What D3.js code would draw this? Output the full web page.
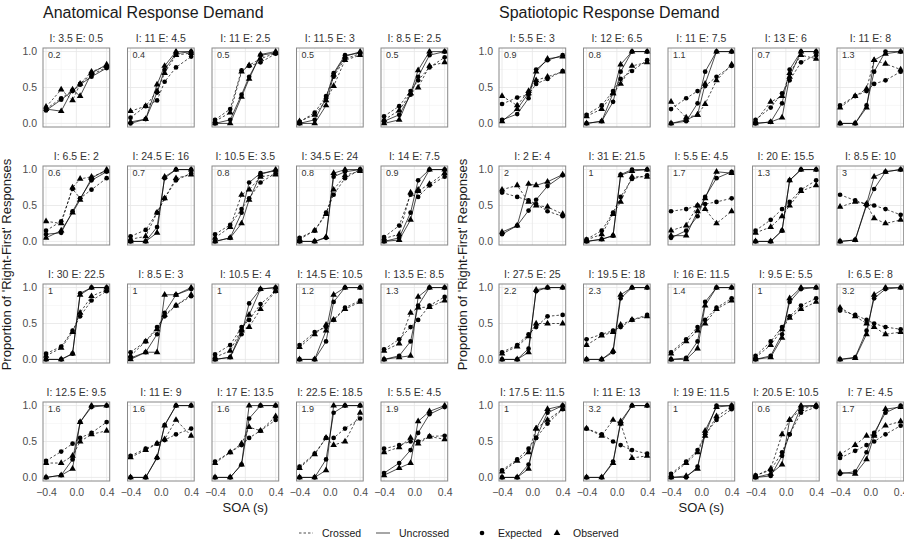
<!DOCTYPE html>
<html>
<head>
<meta charset="utf-8">
<script src="https://cdn.jsdelivr.net/npm/d3@7"></script>
<style>
  body { margin: 0; background: #fff; }
  svg { font-family: "Liberation Sans", Arial, sans-serif; }
</style>
</head>
<body>
<div id="chart"></div>
<script>
/*
  Small multiples of psychometric curves
*/

var soa = [-0.4, -0.2, -0.05, 0.05, 0.2, 0.4];
var yTicks = [0, 0.5, 1], yMinor = [0.25, 0.75];
var xTicks = [-0.4, 0, 0.4], xMinor = [-0.2, 0.2];

var anatTitles = ["I: 3.5 E: 0.5", "I: 11 E: 4.5", "I: 11 E: 2.5", "I: 11.5 E: 3", "I: 8.5 E: 2.5",
  "I: 6.5 E: 2", "I: 24.5 E: 16", "I: 10.5 E: 3.5", "I: 34.5 E: 24", "I: 14 E: 7.5",
  "I: 30 E: 22.5", "I: 8.5 E: 3", "I: 10.5 E: 4", "I: 14.5 E: 10.5", "I: 13.5 E: 8.5",
  "I: 12.5 E: 9.5", "I: 11 E: 9", "I: 17 E: 13.5", "I: 22.5 E: 18.5", "I: 5.5 E: 4.5"];
var anatSlopes = ["0.2", "0.4", "0.5", "0.5", "0.5", "0.6", "0.7", "0.8", "0.8", "0.9",
  "1", "1", "1", "1.2", "1.3", "1.6", "1.6", "1.6", "1.9", "1.9"];

var anatCrossedExp = [
  [0.20,0.35,0.46,0.55,0.68,0.78], [0.08,0.24,0.32,0.58,0.78,0.93], [0.05,0.20,0.74,0.80,0.85,0.97], [0.02,0.15,0.38,0.65,0.90,0.97], [0.10,0.24,0.45,0.60,0.78,0.92],
  [0.15,0.28,0.73,0.60,0.72,0.88], [0.07,0.16,0.40,0.60,0.85,0.95], [0.10,0.23,0.45,0.60,0.82,0.95], [0.05,0.15,0.40,0.65,0.88,1.00], [0.06,0.22,0.65,0.62,0.78,0.90],
  [0.08,0.18,0.40,0.60,0.82,0.95], [0.10,0.25,0.45,0.60,0.75,0.88], [0.07,0.20,0.45,0.55,0.77,0.95], [0.20,0.38,0.45,0.55,0.72,0.82], [0.14,0.28,0.45,0.55,0.75,0.87],
  [0.23,0.36,0.47,0.55,0.62,0.77], [0.30,0.40,0.47,0.52,0.60,0.68], [0.22,0.35,0.45,0.55,0.65,0.80], [0.15,0.33,0.55,0.55,0.68,0.82], [0.40,0.45,0.50,0.50,0.57,0.58]];
var anatCrossedObs = [
  [0.23,0.47,0.32,0.55,0.72,0.80], [0.17,0.24,0.45,0.70,0.95,0.98], [0.03,0.15,0.72,0.81,0.90,0.98], [0.03,0.12,0.32,0.52,0.88,0.95], [0.05,0.18,0.42,0.50,0.80,0.85],
  [0.28,0.25,0.75,0.87,0.90,0.98], [0.03,0.07,0.40,0.60,0.88,0.93], [0.05,0.20,0.65,0.72,0.90,0.93], [0.03,0.15,0.38,0.72,0.92,0.98], [0.04,0.10,0.68,0.70,0.80,0.95],
  [0.05,0.16,0.38,0.65,0.88,0.97], [0.05,0.25,0.42,0.62,0.75,0.90], [0.03,0.12,0.42,0.45,0.70,0.95], [0.17,0.35,0.48,0.55,0.70,0.80], [0.12,0.22,0.65,0.72,0.73,0.82],
  [0.20,0.20,0.30,0.50,0.60,0.65], [0.28,0.38,0.47,0.53,0.80,0.58], [0.20,0.35,0.47,0.70,0.65,0.85], [0.13,0.32,0.55,0.45,0.50,0.90], [0.35,0.42,0.55,0.47,0.57,0.53]];
var anatUncrossedExp = [
  [0.18,0.33,0.45,0.54,0.65,0.77], [0.00,0.06,0.43,0.75,0.97,1.00], [0.00,0.05,0.40,0.65,0.95,0.98], [0.00,0.05,0.35,0.70,0.95,0.98], [0.03,0.12,0.40,0.65,0.95,1.00],
  [0.10,0.12,0.42,0.60,0.85,0.97], [0.00,0.00,0.20,0.88,1.00,1.00], [0.00,0.05,0.40,0.82,0.95,0.98], [0.00,0.00,0.05,0.90,0.97,1.00], [0.00,0.05,0.40,0.85,1.00,1.00],
  [0.00,0.00,0.08,0.92,1.00,1.00], [0.02,0.10,0.35,0.65,0.90,0.98], [0.00,0.03,0.35,0.78,0.98,1.00], [0.00,0.00,0.25,0.80,1.00,1.00], [0.00,0.05,0.25,0.75,1.00,1.00],
  [0.00,0.03,0.25,0.77,0.98,1.00], [0.00,0.00,0.27,0.73,1.00,1.00], [0.00,0.00,0.18,0.82,1.00,1.00], [0.00,0.00,0.25,0.90,1.00,1.00], [0.06,0.20,0.38,0.62,0.88,0.98]];
var anatUncrossedObs = [
  [0.20,0.17,0.47,0.38,0.70,0.82], [0.02,0.06,0.54,0.80,1.00,1.00], [0.00,0.00,0.37,0.62,0.96,1.00], [0.00,0.00,0.25,0.68,0.93,1.00], [0.00,0.05,0.42,0.74,1.00,1.00],
  [0.05,0.15,0.40,0.58,0.88,1.00], [0.00,0.00,0.12,0.90,1.00,1.00], [0.00,0.05,0.25,0.58,0.93,1.00], [0.00,0.00,0.06,0.95,1.00,1.00], [0.00,0.02,0.30,0.72,1.00,1.00],
  [0.00,0.00,0.08,0.90,1.00,1.00], [0.00,0.10,0.10,0.90,0.90,1.00], [0.00,0.03,0.40,0.62,0.98,1.00], [0.00,0.00,0.40,0.90,1.00,1.00], [0.00,0.03,0.05,0.87,1.00,1.00],
  [0.00,0.03,0.12,0.77,1.00,1.00], [0.00,0.00,0.28,0.72,1.00,1.00], [0.00,0.00,0.18,1.00,1.00,1.00], [0.00,0.00,0.10,1.00,1.00,1.00], [0.03,0.13,0.20,0.78,0.92,1.00]];

var spatTitles = ["I: 5.5 E: 3", "I: 12 E: 6.5", "I: 11 E: 7.5", "I: 13 E: 6", "I: 11 E: 8",
  "I: 2 E: 4", "I: 31 E: 21.5", "I: 5.5 E: 4.5", "I: 20 E: 15.5", "I: 8.5 E: 10",
  "I: 27.5 E: 25", "I: 19.5 E: 18", "I: 16 E: 11.5", "I: 9.5 E: 5.5", "I: 6.5 E: 8",
  "I: 17.5 E: 11.5", "I: 11 E: 13", "I: 19 E: 11.5", "I: 20.5 E: 10.5", "I: 7 E: 4.5"];
var spatSlopes = ["0.9", "0.8", "1.1", "0.7", "1.3", "2", "1", "1.7", "1.3", "3",
  "2.2", "2.3", "1.4", "1", "3.2", "1", "3.2", "1", "0.6", "1.7"];

var spatCrossedExp = [
  [0.27,0.36,0.40,0.55,0.62,0.73], [0.12,0.25,0.45,0.62,0.73,0.88], [0.20,0.35,0.45,0.52,0.65,0.80], [0.05,0.22,0.42,0.60,0.85,0.95], [0.25,0.38,0.45,0.55,0.60,0.72],
  [0.68,0.62,0.57,0.52,0.42,0.35], [0.03,0.15,0.40,0.62,0.87,0.92], [0.42,0.45,0.50,0.52,0.55,0.60], [0.15,0.30,0.45,0.55,0.72,0.85], [0.65,0.57,0.52,0.50,0.45,0.37],
  [0.10,0.20,0.35,0.45,0.60,0.62], [0.28,0.35,0.40,0.45,0.55,0.62], [0.10,0.28,0.45,0.55,0.72,0.85], [0.05,0.25,0.45,0.60,0.75,0.85], [0.68,0.62,0.55,0.50,0.45,0.42],
  [0.10,0.25,0.40,0.55,0.75,0.95], [0.68,0.60,0.50,0.45,0.38,0.33], [0.05,0.22,0.38,0.60,0.80,0.95], [0.03,0.10,0.35,0.60,0.90,0.98], [0.27,0.37,0.45,0.50,0.60,0.72]];
var spatCrossedObs = [
  [0.38,0.25,0.45,0.60,0.65,0.72], [0.10,0.20,0.42,0.55,0.80,0.85], [0.30,0.08,0.12,0.27,0.60,0.82], [0.03,0.30,0.38,0.70,0.95,0.90], [0.22,0.38,0.48,0.88,0.83,0.75],
  [0.72,0.78,0.55,0.50,0.48,0.38], [0.02,0.10,0.38,0.55,0.90,0.90], [0.15,0.22,0.50,0.45,0.25,0.42], [0.12,0.20,0.35,0.50,0.70,0.78], [0.48,0.55,0.52,0.32,0.25,0.30],
  [0.08,0.18,0.32,0.50,0.50,0.50], [0.20,0.33,0.38,0.48,0.55,0.60], [0.08,0.25,0.40,0.50,0.70,0.82], [0.03,0.20,0.42,0.58,0.70,0.80], [0.72,0.60,0.50,0.45,0.35,0.38],
  [0.08,0.23,0.35,0.68,0.80,0.95], [0.68,0.58,0.80,0.75,0.27,0.30], [0.03,0.20,0.35,0.58,0.85,0.98], [0.02,0.12,0.60,0.80,0.95,1.00], [0.32,0.45,0.58,0.60,0.72,0.78]];
var spatUncrossedExp = [
  [0.05,0.13,0.35,0.75,0.88,0.95], [0.00,0.03,0.30,0.72,1.00,1.00], [0.00,0.03,0.28,0.72,1.00,1.00], [0.00,0.02,0.28,0.75,1.00,1.00], [0.00,0.00,0.25,0.72,1.00,1.00],
  [0.10,0.22,0.43,0.58,0.77,0.92], [0.00,0.03,0.08,0.93,1.00,1.00], [0.05,0.15,0.35,0.62,0.88,0.97], [0.00,0.00,0.15,0.85,1.00,1.00], [0.00,0.02,0.50,0.73,0.97,1.00],
  [0.00,0.00,0.15,0.95,1.00,1.00], [0.00,0.00,0.10,0.85,1.00,1.00], [0.00,0.02,0.25,0.80,1.00,1.00], [0.00,0.05,0.35,0.80,0.98,1.00], [0.00,0.03,0.40,0.85,0.98,1.00],
  [0.00,0.00,0.18,0.55,0.90,1.00], [0.00,0.00,0.22,0.75,1.00,1.00], [0.00,0.00,0.15,0.60,1.00,1.00], [0.00,0.02,0.30,0.60,0.98,1.00], [0.05,0.08,0.35,0.62,0.90,1.00]];
var spatUncrossedObs = [
  [0.03,0.20,0.42,0.72,0.90,0.93], [0.00,0.03,0.42,0.82,1.00,1.00], [0.00,0.05,0.12,0.55,1.00,1.00], [0.00,0.02,0.08,0.65,1.00,1.00], [0.00,0.00,0.22,0.88,0.97,1.00],
  [0.13,0.22,0.80,0.78,0.83,0.93], [0.00,0.03,0.08,0.92,0.98,1.00], [0.08,0.08,0.42,0.60,0.97,0.95], [0.00,0.00,0.15,0.85,1.00,1.00], [0.00,0.02,0.52,0.90,0.97,1.00],
  [0.00,0.00,0.10,0.97,1.00,1.00], [0.00,0.00,0.12,0.90,1.00,1.00], [0.00,0.00,0.15,0.75,1.00,1.00], [0.00,0.03,0.30,0.85,1.00,1.00], [0.00,0.02,0.35,0.90,1.00,1.00],
  [0.00,0.00,0.12,0.68,0.95,1.00], [0.00,0.00,0.20,0.78,1.00,1.00], [0.00,0.02,0.12,0.65,0.98,1.00], [0.00,0.05,0.18,0.80,1.00,1.00], [0.07,0.05,0.25,0.58,0.95,0.98]];

var width = 904, height = 541;
var panelW = 66.7, panelH = 79, stepX = 84.5, stepY = 118, panelTop = 48;

var svg = d3.select("#chart").append("svg")
  .attr("width", width)
  .attr("height", height);

var x = d3.scaleLinear().domain([-0.44, 0.44]).range([0, panelW]);
var y = d3.scaleLinear().domain([-0.05, 1.05]).range([panelH, 0]);

var line = d3.line()
  .x(function(d, i){ return x(soa[i]); })
  .y(function(d){ return y(d); });

function drawFigure(left, title, titles, slopes, crossedExp, crossedObs, uncrossedExp, uncrossedObs){
  var fig = svg.append("g");

  //Figure title
  fig.append("text")
    .attr("x", left)
    .attr("y", 18)
    .style("font-size", "16px")
    .style("fill", "#1a1a1a")
    .text(title);

  titles.forEach(function(t, k){
    var col = k % 5, row = Math.floor(k / 5);
    var g = fig.append("g")
      .attr("transform", "translate(" + (left + col * stepX) + "," + (panelTop + row * stepY) + ")");

    //grid lines
    g.selectAll(".minor-y").data(yMinor).enter().append("line")
      .attr("x1", 0).attr("x2", panelW)
      .attr("y1", function(d){ return y(d); }).attr("y2", function(d){ return y(d); })
      .style("stroke", "#f3f3f3").style("stroke-width", 0.6);
    g.selectAll(".minor-x").data(xMinor).enter().append("line")
      .attr("y1", 0).attr("y2", panelH)
      .attr("x1", function(d){ return x(d); }).attr("x2", function(d){ return x(d); })
      .style("stroke", "#f3f3f3").style("stroke-width", 0.6);
    g.selectAll(".major-y").data(yTicks).enter().append("line")
      .attr("x1", 0).attr("x2", panelW)
      .attr("y1", function(d){ return y(d); }).attr("y2", function(d){ return y(d); })
      .style("stroke", "#e6e6e6").style("stroke-width", 0.8);
    g.selectAll(".major-x").data(xTicks).enter().append("line")
      .attr("y1", 0).attr("y2", panelH)
      .attr("x1", function(d){ return x(d); }).attr("x2", function(d){ return x(d); })
      .style("stroke", "#e6e6e6").style("stroke-width", 0.8);

    //strip title
    g.append("text")
      .attr("x", panelW / 2)
      .attr("y", -6.5)
      .style("text-anchor", "middle")
      .style("font-size", "10.5px")
      .style("fill", "#333")
      .text(t);

    //slope label
    g.append("text")
      .attr("x", 5)
      .attr("y", 9.5)
      .style("font-size", "9px")
      .style("fill", "#333")
      .text(slopes[k]);

    var series = [
      {v: crossedExp[k], dash: true, shape: "circle"},
      {v: crossedObs[k], dash: true, shape: "triangle"},
      {v: uncrossedExp[k], dash: false, shape: "circle"},
      {v: uncrossedObs[k], dash: false, shape: "triangle"}
    ];

    series.forEach(function(s){
      g.append("path")
        .datum(s.v)
        .attr("d", line)
        .style("fill", "none")
        .style("stroke", "#000")
        .style("stroke-width", 0.7)
        .style("stroke-dasharray", s.dash ? "2.5,2" : null);
    });

    series.forEach(function(s){
      if(s.shape == "circle"){
        g.selectAll(null).data(s.v).enter().append("circle")
          .attr("cx", function(d, i){ return x(soa[i]); })
          .attr("cy", function(d){ return y(d); })
          .attr("r", 2.35)
          .style("fill", "#000");
      } else {
        g.selectAll(null).data(s.v).enter().append("path")
          .attr("d", d3.symbol().type(d3.symbolTriangle).size(19))
          .attr("transform", function(d, i){ return "translate(" + x(soa[i]) + "," + y(d) + ")"; })
          .style("fill", "#000");
      }
    });

    //panel border
    g.append("rect")
      .attr("width", panelW)
      .attr("height", panelH)
      .style("fill", "none")
      .style("stroke", "#888")
      .style("stroke-width", 1);

    //Y axis labels on first column
    if(col == 0){
      var ya = g.append("g")
        .call(d3.axisLeft(y).tickValues(yTicks).tickFormat(d3.format(".1f")).tickSize(0).tickPadding(6));
      ya.select(".domain").remove();
      ya.selectAll("text").style("font-size", "10.5px").style("fill", "#4d4d4d").style("font-family", "Liberation Sans, Arial, sans-serif");
    }

    //X axis labels on bottom row
    if(row == 3){
      var xa = g.append("g")
        .attr("transform", "translate(0," + panelH + ")")
        .call(d3.axisBottom(x).tickValues(xTicks).tickFormat(d3.format(".1f")).tickSize(0).tickPadding(8));
      xa.select(".domain").remove();
      xa.selectAll("text").style("font-size", "10.5px").style("fill", "#4d4d4d").style("font-family", "Liberation Sans, Arial, sans-serif");
    }
  });

  var panelsWidth = 4 * stepX + panelW;

  //Label for X axis
  fig.append("text")
    .attr("x", left + panelsWidth / 2)
    .attr("y", 512)
    .style("text-anchor", "middle")
    .style("font-size", "13px")
    .style("fill", "#1a1a1a")
    .text("SOA (s)");

  //Label for Y axis
  fig.append("text")
    .attr("transform", "translate(" + (left - 32.5) + "," + (panelTop + (3 * stepY + panelH) / 2) + ") rotate(-90)")
    .style("text-anchor", "middle")
    .style("font-size", "13px")
    .style("fill", "#1a1a1a")
    .text("Proportion of 'Right-First' Responses");
}

drawFigure(43, "Anatomical Response Demand", anatTitles, anatSlopes,
  anatCrossedExp, anatCrossedObs, anatUncrossedExp, anatUncrossedObs);
drawFigure(499, "Spatiotopic Response Demand", spatTitles, spatSlopes,
  spatCrossedExp, spatCrossedObs, spatUncrossedExp, spatUncrossedObs);

//Legend
var legendY = 533;
var legend = svg.append("g").style("font-size", "10.5px").style("fill", "#1a1a1a");

var lineKeys = [{label: "Crossed", x: 299, dash: "2.5,2"}, {label: "Uncrossed", x: 376, dash: null}];
lineKeys.forEach(function(k){
  legend.append("line")
    .attr("x1", k.x).attr("x2", k.x + 14)
    .attr("y1", legendY).attr("y2", legendY)
    .style("stroke", "#000").style("stroke-width", 0.7)
    .style("stroke-dasharray", k.dash);
  legend.append("text")
    .attr("x", k.x + 23)
    .attr("y", legendY + 3.7)
    .text(k.label);
});

var shapeKeys = [{label: "Expected", x: 482, shape: d3.symbolCircle}, {label: "Observed", x: 557, shape: d3.symbolTriangle}];
shapeKeys.forEach(function(k){
  legend.append("path")
    .attr("d", d3.symbol().type(k.shape).size(k.shape == d3.symbolCircle ? 17 : 19))
    .attr("transform", "translate(" + k.x + "," + legendY + ")")
    .style("fill", "#000");
  legend.append("text")
    .attr("x", k.x + 16)
    .attr("y", legendY + 3.7)
    .text(k.label);
});
</script>
</body>
</html>
